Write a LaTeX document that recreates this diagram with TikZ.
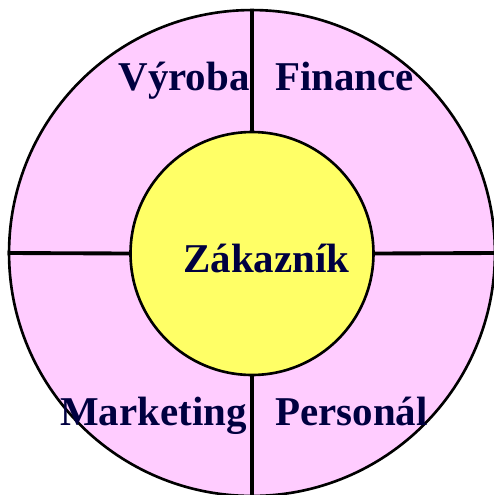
\documentclass[tikz,border=0pt]{standalone}
\usepackage{fontspec}
\setmainfont{Liberation Serif}
\definecolor{ringpink}{HTML}{FFCCFF}
\definecolor{hubyellow}{HTML}{FFFF66}
\definecolor{navy}{HTML}{000040}
\tikzset{
  every picture/.style={line join=round, line cap=round},
  disc/.style={circle, draw=black, line width=1.5pt, inner sep=0pt},
  divider/.style={line width=2.2pt, line cap=butt},
  dept/.style={inner sep=0pt, text=navy, font=\fontsize{23.3}{28}\selectfont\bfseries},
}
\begin{document}
\begin{tikzpicture}[x=0.02cm,y=-0.02cm]
\useasboundingbox (0,0) rectangle (494,495);
\node[disc,fill=ringpink,minimum size=9.72cm] (ring) at (252,253) {};
\node[disc,fill=hubyellow,minimum size=4.86cm] (hub) at (252,253.5) {};
\draw[divider] (ring.north) -- (hub.north);
\draw[divider] (hub.south) -- (ring.south);
\draw[divider] (ring.west) -- (hub.west);
\draw[divider] (hub.east) -- (ring.east);
\node[dept,anchor=base east] (vyroba) at (250,90) {Výroba};
\node[dept,anchor=base west] (finance) at (275,90) {Finance};
\node[dept,anchor=base west] (zakaznik) at (183,272) {Zákazník};
\node[dept,anchor=base east] (marketing) at (247,425) {Marketing};
\node[dept,anchor=base west] (personal) at (275,425) {Personál};
\end{tikzpicture}
\end{document}
